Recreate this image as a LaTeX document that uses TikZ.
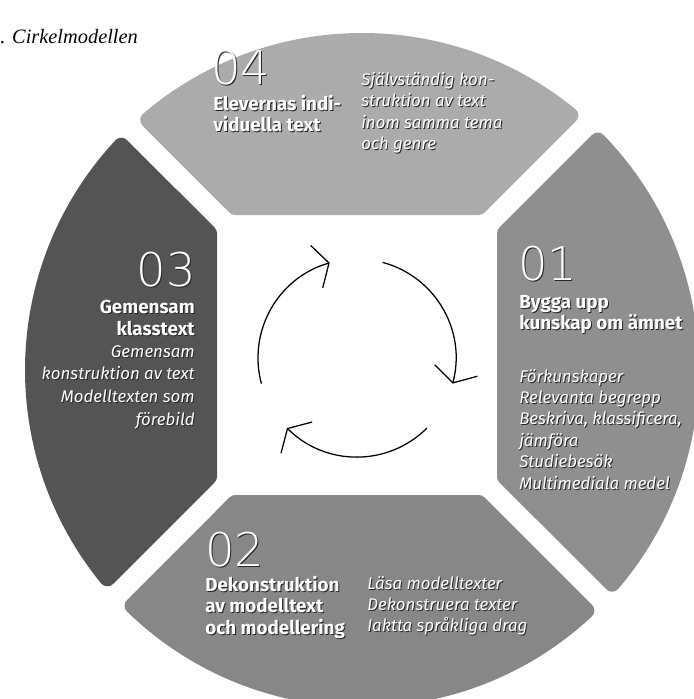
\documentclass[tikz,border=0pt]{standalone}
\usepackage{fontspec}
\usetikzlibrary{arrows.meta}
\newfontfamily\fira{Fira Sans}
\newfontfamily\firathin{DejaVuSans-ExtraLight.ttf}
\newfontfamily\titleserif{Liberation Serif}
\newcommand\sh[1]{\leavevmode\rlap{\kern0.7pt\raisebox{-0.7pt}{\textcolor{black!85}{#1}}}#1}

\begin{document}
\begin{tikzpicture}
[x=0.025cm, y=-0.025cm,
 segment/.style={line width=0.4cm, line join=round},
 num/.style={inner sep=0pt, text=white, font=\firathin\fontsize{33}{33}\selectfont},
 head/.style={inner sep=0pt, text=white, font=\fira\bfseries\fontsize{13.4}{15.2}\selectfont},
 body/.style={inner sep=0pt, text=white, font=\fira\itshape\fontsize{12}{15.2}\selectfont},
 turn/.style={line width=0.9pt, -{Straight Barb[length=0.32cm,width=1.1cm]}}]
\useasboundingbox (0,0) rectangle (694,699);
\clip (0,0) rectangle (694,699);

% the four parts of the ring
\draw[segment, fill=black!33, draw=black!33] (235.3,207) -- (148.22,119.92)
  arc[start angle=-130.53, end angle=-50.71, radius=329] -- (478.7,207) -- cycle;
\draw[segment, fill=black!44, draw=black!44] (505,233.3) -- (597.77,140.53)
  arc[start angle=-44.22, end angle=40.52, radius=329] -- (505,476.7) -- cycle;
\draw[segment, fill=black!47, draw=black!47] (478.7,503) -- (586.35,610.65)
  arc[start angle=47.01, end angle=134.22, radius=329] -- (235.3,503) -- cycle;
\draw[segment, fill=black!67, draw=black!67] (209,476.7) -- (107.37,578.33)
  arc[start angle=140.71, end angle=222.99, radius=329] -- (209,233.3) -- cycle;

% cycle in the middle
\begin{scope}[shift={(357,358)}, yscale=-1]
\draw[turn] (195:99) arc[start angle=195, end angle=106, radius=99];
\draw[turn] (75:99) arc[start angle=75, end angle=-15, radius=99];
\draw[turn] (-45:99) arc[start angle=-45, end angle=-135, radius=99];
\end{scope}

\node[anchor=west, inner sep=0pt, font=\titleserif\itshape\fontsize{14.5}{17}\selectfont] (title) at (0,37) {. Cirkelmodellen};

% 04
\node[num, anchor=north west] (n04) at (211,50) {\sh{04}};
\node[head, anchor=north west, align=left] (h04) at (213,95) {\sh{Elevernas indi-}\\\sh{viduella text}};
\node[body, anchor=north west, align=left] (b04) at (361,72) {\sh{Självständig kon-}\\\sh{struktion av text}\\\sh{inom samma tema}\\\sh{och genre}};

% 03
\node[num, anchor=north east] (n03) at (196,252) {\sh{03}};
\node[head, anchor=north east, align=right] (h03) at (195,300) {\sh{Gemensam}\\\sh{klasstext}};
\node[body, anchor=north east, align=right, font=\fira\itshape\fontsize{12}{16.2}\selectfont] (b03) at (195,345) {\sh{Gemensam}\\\sh{konstruktion av text}\\\sh{Modelltexten som}\\\sh{förebild}};

% 01
\node[num, anchor=north west] (n01) at (518,246) {\sh{01}};
\node[head, anchor=north west, align=left] (h01) at (519,295) {\sh{Bygga upp}\\\sh{kunskap om ämnet}};
\node[body, anchor=north west, align=left] (b01) at (519,369) {\sh{Förkunskaper}\\\sh{Relevanta begrepp}\\\sh{Beskriva, klassificera,}\\\sh{jämföra}\\\sh{Studiebesök}\\\sh{Multimediala medel}};

% 02
\node[num, anchor=north west] (n02) at (205,532) {\sh{02}};
\node[head, anchor=north west, align=left] (h02) at (205,576) {\sh{Dekonstruktion}\\\sh{av modelltext}\\\sh{och modellering}};
\node[body, anchor=north west, align=left] (b02) at (367,576) {\sh{Läsa modelltexter}\\\sh{Dekonstruera texter}\\\sh{Iaktta språkliga drag}};
\end{tikzpicture}
\end{document}
